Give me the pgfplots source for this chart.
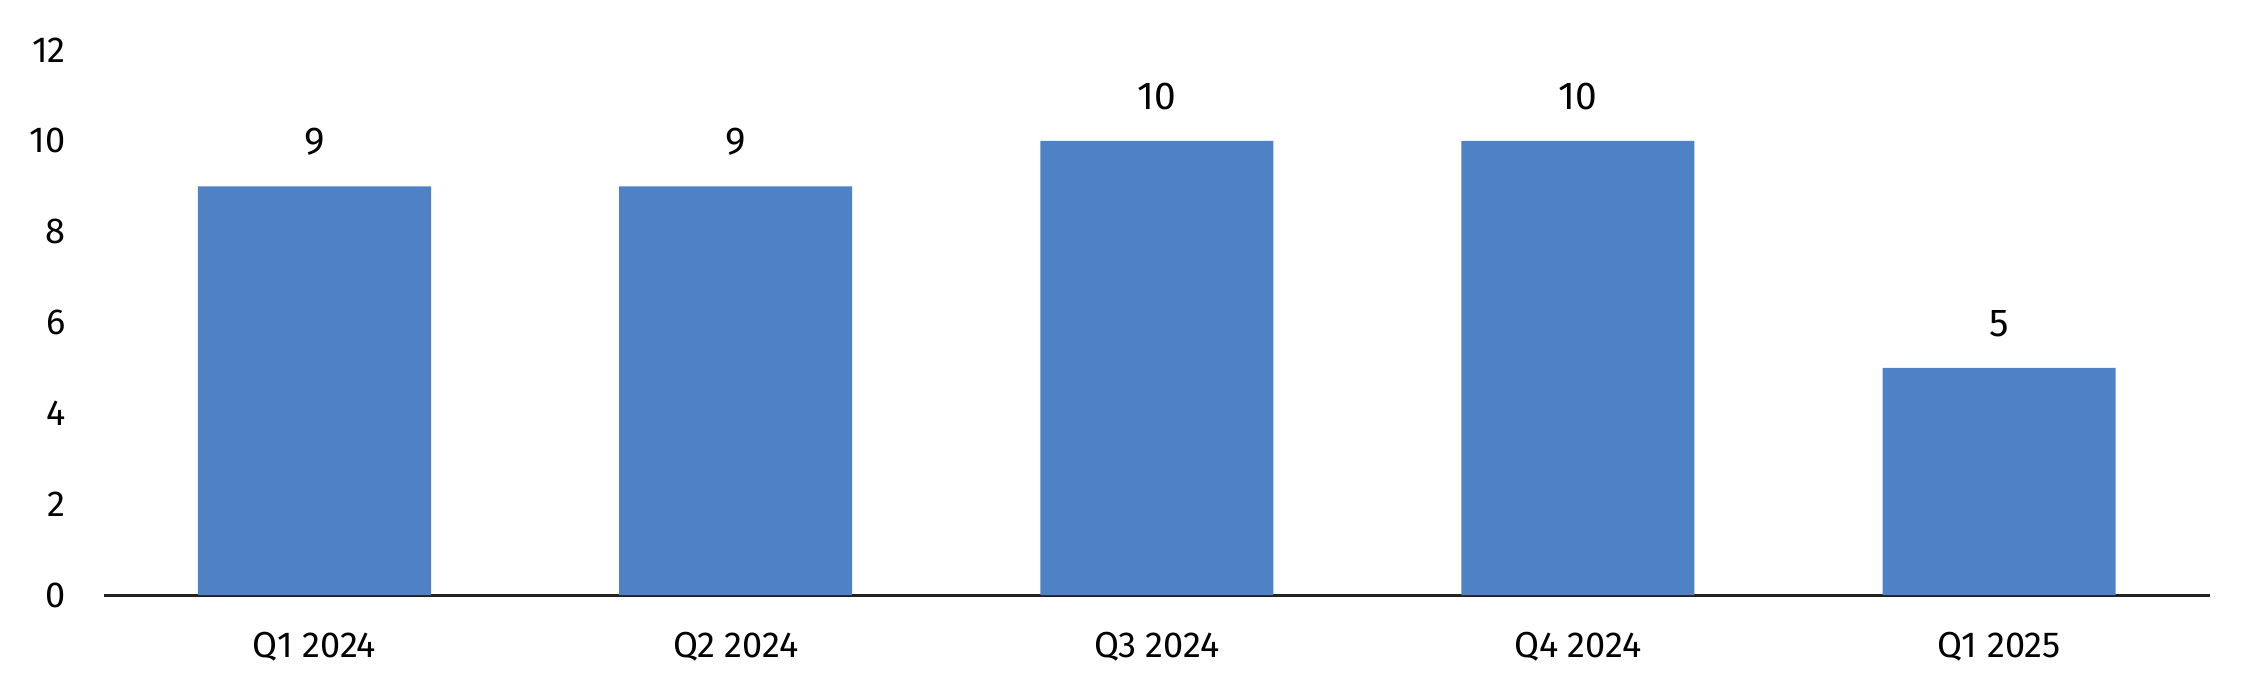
\documentclass[border=0pt]{standalone}
\usepackage{pgfplots}
\pgfplotsset{compat=1.18}
\usepackage{fontspec}
\setmainfont{Fira Sans}
\definecolor{barblue}{RGB}{79,130,196}
\definecolor{axisdark}{RGB}{34,34,34}
\begin{document}
\begin{tikzpicture}
\begin{axis}[
    scale only axis,
    width=758pt, height=196.2pt,
    xmin=-0.5, xmax=4.5,
    ymin=0, ymax=12,
    ytick={0,2,...,12},
    xtick=data,
    xticklabels={Q1 2024, Q2 2024, Q3 2024, Q4 2024, Q1 2025},
    axis x line*=bottom,
    axis y line*=left,
    y axis line style={draw=none},
    x axis line style={draw=axisdark, line width=1.1pt},
    tick style={draw=none},
    major tick length=0pt,
    ticklabel style={font=\fontsize{13}{15}\selectfont, text=black},
    yticklabel style={anchor=east, inner sep=0pt, xshift=-13.6pt},
    xticklabel style={anchor=north, inner sep=0pt, yshift=-13pt},
    /pgf/number format/assume math mode=true,
    ybar, bar width=83.9pt,
    nodes near coords,
    every node near coord/.append style={anchor=south, inner sep=0pt, yshift=10.8pt, font=\fontsize{14}{16}\selectfont, text=black},
    clip=false,
]
\addplot[fill=barblue, draw=none] coordinates {(0,9) (1,9) (2,10) (3,10) (4,5)};
\end{axis}
\pgfresetboundingbox
\path[use as bounding box] (-37.4pt,-35.6pt) rectangle (775.4pt,214.2pt);
\end{tikzpicture}
\end{document}
